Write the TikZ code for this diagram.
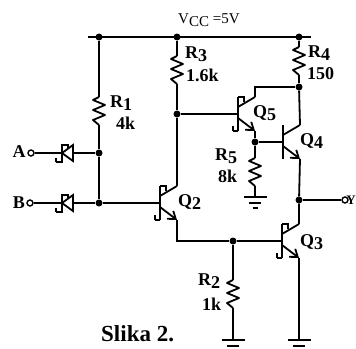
\documentclass[tikz,border=0pt]{standalone}
\usepackage{fontspec}
\setmainfont{Liberation Serif}
\usetikzlibrary{arrows.meta}

\newcommand{\sublabel}[2]{#1\raisebox{-3pt}{#2}}

\tikzset{
  wire/.style={line width=1.8pt, line join=miter},
  dot/.style={circle, fill=black, inner sep=0pt, minimum size=7pt},
  term/.style={circle, draw, line width=1.4pt, fill=white, inner sep=0pt, minimum size=6pt},
  lbl/.style={font=\bfseries\fontsize{18}{19}\selectfont, inner sep=0pt},
  npnplain/.pic={
    \draw[wire] (0,-17) -- (0,17);
    \coordinate (-b) at (0,0);
    \coordinate (-c) at (17,-17);
    \coordinate (-e) at (17,17);
    \draw[wire] (0,-7) -- (-c);
    \draw[wire, -{Straight Barb[length=7pt, width=10pt, line width=1.8pt]}] (0,4) -- (-e);
  },
  npn/.pic={
    \draw[wire] (-5,17) -- (-5,12) (-5,17) -- (0,17) (0,-17) -- (6,-17) -- (6,-12);
    \pic (-p) at (0,0) {npnplain};
    \coordinate (-b) at (0,0);
    \coordinate (-c) at (17,-17);
    \coordinate (-e) at (17,17);
  },
  zener/.pic={
    \draw[wire] (-6,9) -- (-6,5) (-6,9) -- (0,9) -- (0,-8) -- (6,-8) -- (6,-5);
    \draw[wire] (0,0) -- (11,-8) -- (11,8) -- cycle;
    \coordinate (-l) at (0,0);
    \coordinate (-r) at (11,0);
  },
  res/.pic={
    \draw[wire, line join=round] (0,-14) -- (-6,-11) -- (6,-6) -- (-6,-1) -- (6,4) -- (-6,9) -- (0,14);
    \coordinate (-t) at (0,-14);
    \coordinate (-b) at (0,14);
  },
  gnd/.pic={
    \coordinate (-t) at (0,0);
    \draw[wire] (-11.5,0) -- (11.5,0) (-6,6) -- (6,6) (-2.5,11) -- (2.5,11);
  },
}

\begin{document}
\begin{tikzpicture}[x=1pt, y=-1pt]
  \useasboundingbox (0,0) rectangle (356,348);

  % rail and junctions
  \coordinate (railL) at (88,37);
  \coordinate (railR) at (311,37);
  \node[dot] (vone) at (99,37) {};
  \node[dot] (vthree) at (177,37) {};
  \node[dot] (vfour) at (299,37) {};
  \node[dot] (na) at (99,153) {};
  \node[dot] (nb) at (99,203) {};
  \node[dot] (nthree) at (177,114) {};
  \node[dot] (nfour) at (299,87) {};
  \node[dot] (nfive) at (255,142) {};
  \node[dot] (ny) at (299,200) {};
  \node[dot] (ntwo) at (233,241) {};
  \node[term] (ina) at (31,153) {};
  \node[term] (inb) at (30,203) {};
  \node[term] (outy) at (345,200) {};

  \pic (done) at (62,153) {zener};
  \pic (dtwo) at (62,203) {zener};
  \pic (qtwo) at (160,203) {npn};
  \pic (qthree) at (282,241) {npn};
  \pic (qfour) at (283,142) {npnplain};
  \pic (qfive) at (238,114) {npn};
  \pic (rone) at (99,111) {res};
  \pic (rtwo) at (233,294) {res};
  \pic (rthree) at (177,70) {res};
  \pic (rfour) at (299,61) {res};
  \pic (rfive) at (255,172) {res};
  \pic (gfive) at (255,197) {gnd};
  \pic (gtwo) at (233,340) {gnd};
  \pic (gthree) at (299,340) {gnd};

  \draw[wire] (railL) -- (railR);
  \draw[wire] (vone) -- (rone-t) (rone-b) -- (na) -- (nb);
  \draw[wire] (ina) -- (done-l) (done-r) -- (na);
  \draw[wire] (inb) -- (dtwo-l) (dtwo-r) -- (nb) -- (qtwo-b);
  \draw[wire] (vthree) -- (rthree-t) (rthree-b) -- (nthree) -- (nthree |- qtwo-c);
  \draw[wire] (nthree) -- (qfive-b);
  \draw[wire] (vfour) -- (rfour-t) (rfour-b) -- (nfour);
  \draw[wire] (qfive-c) -- (qfive-c |- nfour) -- (nfour);
  \draw[wire] (nfour) -- (qfour-c);
  \draw[wire] (qfive-e) -- (nfive) -- (qfour-b);
  \draw[wire] (nfive) -- (rfive-t) (rfive-b) -- (gfive-t);
  \draw[wire] (qfour-e) -- (ny) -- (qthree-c);
  \draw[wire] (ny) -- (outy);
  \draw[wire] (qtwo-e) -- (qtwo-e |- ntwo) -- (ntwo) -- (qthree-b);
  \draw[wire] (ntwo) -- (rtwo-t) (rtwo-b) -- (gtwo-t);
  \draw[wire] (qthree-e) -- (gthree-t);

  % labels
  \node[font=\fontsize{15}{16}\selectfont, inner sep=0pt, anchor=west] (vcc) at (178,20) {\sublabel{V}{CC} =5V};
  \node[lbl] (la) at (19,152) {A};
  \node[lbl] (lb) at (19,203) {B};
  \node[lbl, anchor=west] (lone) at (110,103) {\sublabel{R}{1}};
  \node[lbl, anchor=west] (lonev) at (116,123) {4k};
  \node[lbl, anchor=west] (lthree) at (185,54) {\sublabel{R}{3}};
  \node[lbl, anchor=west] (lthreev) at (186,75) {1.6k};
  \node[lbl, anchor=west] (lfour) at (308,53) {\sublabel{R}{4}};
  \node[lbl, anchor=west] (lfourv) at (307,74) {150};
  \node[lbl, anchor=west] (lfive) at (215,156) {\sublabel{R}{5}};
  \node[lbl, anchor=west] (lfivev) at (218,176) {8k};
  \node[lbl, anchor=west] (ltwo) at (198,281) {\sublabel{R}{2}};
  \node[lbl, anchor=west] (ltwov) at (202,304) {1k};
  \node[lbl, anchor=west] (qltwo) at (178,202) {\sublabel{Q}{2}};
  \node[lbl, anchor=west] (qlthree) at (300,242) {\sublabel{Q}{3}};
  \node[lbl, anchor=west] (qlfour) at (300,141) {\sublabel{Q}{4}};
  \node[lbl, anchor=west] (qlfive) at (253,113) {\sublabel{Q}{5}};
  \node[font=\bfseries\fontsize{13}{14}\selectfont, inner sep=0pt, anchor=east] (ly) at (356,200) {Y};
  \node[font=\bfseries\fontsize{23}{24}\selectfont, inner sep=0pt, anchor=west] (cap) at (101,334) {Slika 2.};
\end{tikzpicture}
\end{document}
